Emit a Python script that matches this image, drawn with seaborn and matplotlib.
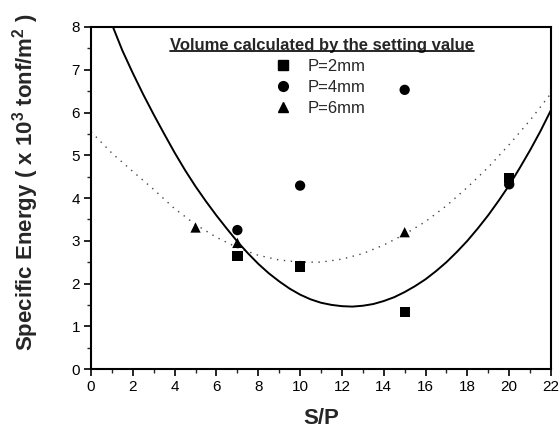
import matplotlib
matplotlib.use("Agg")
import matplotlib.pyplot as plt
import seaborn as sns
import pandas as pd
from matplotlib.lines import Line2D
from matplotlib.ticker import MultipleLocator

# ---- data ----
sp_2mm = [7, 10, 15, 20]
e_2mm = [2.64, 2.40, 1.33, 4.47]
sp_4mm = [7, 10, 15, 20]
e_4mm = [3.25, 4.29, 6.53, 4.32]
sp_6mm = [5, 7, 10, 15, 20]
e_6mm = [3.31, 2.95, 2.42, 3.20, 4.40]

fit_solid_x = [1.05, 1.5, 2.0, 2.5, 3.0, 3.5, 4.0, 4.5, 5.0, 5.5, 6.0, 6.5, 7.0, 7.5, 8.0, 8.5, 9.0, 9.5,
               10.0, 10.5, 11.0, 11.5, 12.0, 12.5, 13.0, 13.5, 14.0, 14.5, 15.0, 15.5, 16.0, 16.5, 17.0,
               17.5, 18.0, 18.5, 19.0, 19.5, 20.0, 20.5, 21.0, 21.5, 22.0]
fit_solid_y = [8.0, 7.45, 6.92, 6.42, 5.95, 5.5, 5.06, 4.65, 4.27, 3.92, 3.59, 3.28, 2.98, 2.71, 2.46, 2.24,
               2.05, 1.88, 1.74, 1.63, 1.55, 1.5, 1.47, 1.46, 1.48, 1.52, 1.59, 1.68, 1.8, 1.94, 2.1, 2.29,
               2.5, 2.74, 3.0, 3.29, 3.6, 3.94, 4.3, 4.7, 5.12, 5.57, 6.06]
fit_dot_x = list(range(0, 23))
fit_dot_y = [5.55, 5.05, 4.62, 4.2, 3.75, 3.38, 3.08, 2.84, 2.66, 2.55, 2.5, 2.5, 2.57, 2.7, 2.9, 3.15, 3.45, 3.82,
             4.25, 4.72, 5.25, 5.82, 6.45]

series_labels = ["P=2mm", "P=4mm", "P=6mm"]
legend_title = "Volume calculated by the setting value"
x_label = "S/P"
y_label = r"Specific Energy ( x 10$^{\mathbf{3}}$ tonf/m$^{\mathbf{2}}$ )"

sns.set_theme(style="ticks")
plt.rcParams["font.family"] = ["Liberation Sans", "DejaVu Sans"]
plt.rcParams["mathtext.fontset"] = "custom"
plt.rcParams["mathtext.rm"] = "Liberation Sans"
plt.rcParams["mathtext.bf"] = "Liberation Sans:bold"

df = pd.DataFrame({
    "sp": sp_2mm + sp_4mm + sp_6mm,
    "e": e_2mm + e_4mm + e_6mm,
    "P": [series_labels[0]] * len(sp_2mm) + [series_labels[1]] * len(sp_4mm) + [series_labels[2]] * len(sp_6mm),
})
solid = pd.DataFrame({"x": fit_solid_x, "y": fit_solid_y})
dotted = pd.DataFrame({"x": fit_dot_x, "y": fit_dot_y})

fig = plt.figure(figsize=(5.6, 4.32), dpi=100)
ax = fig.add_axes([0.1625, 0.1458, 0.8215, 0.7917])

sns.lineplot(data=dotted, x="x", y="y", ax=ax, color="#444444", linewidth=1.0,
             linestyle=(0, (1, 4)), sort=False, legend=False)
sns.lineplot(data=solid, x="x", y="y", ax=ax, color="black", linewidth=1.4, sort=False, legend=False)
sns.scatterplot(data=df, x="sp", y="e", style="P", markers={series_labels[0]: "s", series_labels[1]: "o",
                series_labels[2]: "^"}, color="black", s=55, edgecolor="black", linewidth=0, ax=ax,
                zorder=5, legend=False)

ax.set_xlim(0, 22)
ax.set_ylim(0, 8)
ax.xaxis.set_major_locator(MultipleLocator(2))
ax.xaxis.set_minor_locator(MultipleLocator(1))
ax.yaxis.set_major_locator(MultipleLocator(1))
ax.yaxis.set_minor_locator(MultipleLocator(0.5))
ax.tick_params(which="major", direction="out", length=5, width=1.2, labelsize=11, colors="black", pad=3)
ax.tick_params(which="minor", direction="out", length=3, width=1.0)
for s in ax.spines.values():
    s.set_linewidth(1.5)
    s.set_color("black")

ax.set_xlabel(x_label, fontsize=16, fontweight="bold", labelpad=10)
ax.set_ylabel(y_label, fontsize=16, fontweight="bold")
ax.yaxis.set_label_coords(-0.108, 0.545)

# legend
handles = [Line2D([], [], marker=m, color="black", linestyle="none", markersize=7) for m in ["s", "o", "^"]]
ax.legend(handles, series_labels, loc="upper left", bbox_to_anchor=(0.385, 0.925), frameon=False,
          fontsize=12, handlelength=1.0, handletextpad=1.0, labelspacing=0.35, borderaxespad=0)
t = ax.text(0.502, 0.945, legend_title, transform=ax.transAxes, ha="center", va="center",
            fontsize=12, fontweight="bold")
fig.canvas.draw()
bb = t.get_window_extent()
yline = bb.y0 + 2
fig.add_artist(Line2D([bb.x0, bb.x1], [yline, yline], transform=None, color="black", linewidth=1.2))

fig.savefig("out.png", dpi=100)
